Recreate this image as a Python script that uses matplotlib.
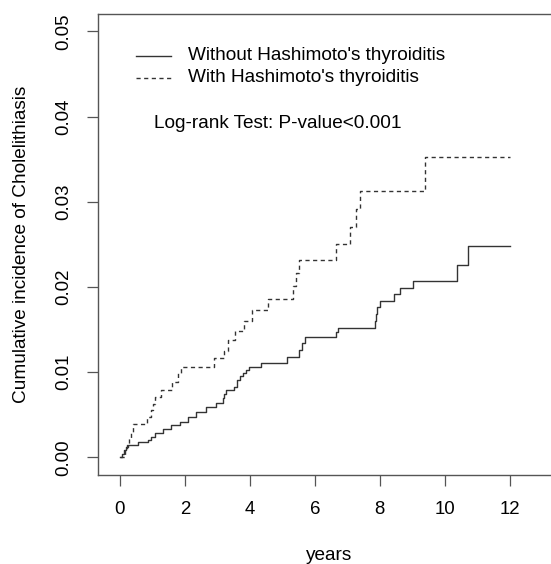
import numpy as np
import matplotlib
matplotlib.use("Agg")
import matplotlib.pyplot as plt

plt.rcParams['font.family'] = ['Liberation Sans', 'DejaVu Sans']

# step curves (time in years, cumulative incidence)
t_without = [0, 0.05, 0.12, 0.2, 0.25, 0.56, 0.87, 0.97, 1.07, 1.33, 1.58, 1.84, 2.09, 2.35,
             2.65, 2.96, 3.16, 3.22, 3.27, 3.52, 3.62, 3.70, 3.78, 3.88, 3.98, 4.34,
             5.16, 5.51, 5.60, 5.70, 6.64, 6.72, 7.84, 7.88, 7.93, 8.00, 8.44, 8.63,
             9.01, 10.38, 10.72, 12.0]
y_without = [0, 0.0004, 0.0008, 0.0012, 0.00144, 0.00183, 0.00203, 0.0024, 0.00282, 0.00329,
             0.00379, 0.00418, 0.00477, 0.00535, 0.00594, 0.00634, 0.00692, 0.0074, 0.0079,
             0.00829, 0.00907, 0.0095, 0.00986, 0.0103, 0.01063, 0.01103, 0.01181, 0.0126,
             0.0134, 0.01416, 0.0147, 0.01521, 0.0160, 0.0168, 0.0176, 0.01838, 0.01913,
             0.01991, 0.02073, 0.02253, 0.02476, 0.02476]

t_with = [0, 0.15, 0.22, 0.29, 0.35, 0.41, 0.82, 0.97, 1.02, 1.08, 1.28, 1.61, 1.79, 1.89,
          2.91, 3.19, 3.32, 3.55, 3.83, 4.06, 4.57, 5.33, 5.42, 5.51, 6.64, 7.07, 7.28,
          7.38, 9.39, 12.0]
y_with = [0, 0.0008, 0.0015, 0.00223, 0.003, 0.00391, 0.0047, 0.0055, 0.0063, 0.00704,
          0.0079, 0.00887, 0.00986, 0.01063, 0.01162, 0.0125, 0.01377, 0.01486, 0.01604,
          0.01729, 0.01858, 0.0201, 0.0216, 0.02316, 0.025, 0.027, 0.0291, 0.03126,
          0.0352, 0.0352]

labels = ["Without Hashimoto's thyroiditis", "With Hashimoto's thyroiditis"]
xticks = [0, 2, 4, 6, 8, 10, 12]
yticks = [0.00, 0.01, 0.02, 0.03, 0.04, 0.05]

W, H = 551, 564
fig = plt.figure(figsize=(W / 100, H / 100), dpi=100)
ax = fig.add_axes([98.3 / W, (H - 475) / H, (560 - 98.3) / W, (475 - 13.6) / H])

lc = '#333333'
dash = (3, 2.5)
ax.step(t_without, y_without, where='post', color=lc, lw=1.0)
ax.step(t_with, y_with, where='post', color=lc, lw=1.0, dashes=dash)

ax.set_xlim(-0.665, 13.55)
ax.set_ylim(-0.00208, 0.05208)
ax.set_xticks(xticks)
ax.set_xticklabels([str(v) for v in xticks])
ax.set_yticks(yticks)
ax.set_yticklabels(['%.2f' % v for v in yticks], rotation=90, va='center')

for s in ax.spines.values():
    s.set_color('#555555')
    s.set_linewidth(1.0)
ax.tick_params(axis='both', direction='out', length=8, width=0.9, color='#555555',
               labelsize=13.4, labelcolor='black')
ax.tick_params(axis='x', pad=11)
ax.tick_params(axis='y', pad=11)

fs = 13.7
# legend drawn by hand, R style
leg_y = [56, 77.7]
for i, lab in enumerate(labels):
    fy = 1 - leg_y[i] / H
    ln = plt.Line2D([135.7 / W, 171 / W], [fy, fy], transform=fig.transFigure,
                    color=lc, lw=1.0)
    if i == 1:
        ln.set_dashes(dash)
    fig.add_artist(ln)
    fig.text(188.3 / W, fy, lab, fontsize=fs, ha='left', va='center')

fig.text(154.3 / W, 1 - 124 / H, "Log-rank Test: P-value<0.001", fontsize=fs,
         ha='left', va='center')

fig.text(21.7 / W, 1 - 244 / H, "Cumulative incidence of Cholelithiasis", fontsize=fs,
         rotation=90, ha='center', va='center')
fig.text(329 / W, 1 - 556 / H, "years", fontsize=fs, ha='center', va='center')

fig.savefig("out.png", dpi=100)
